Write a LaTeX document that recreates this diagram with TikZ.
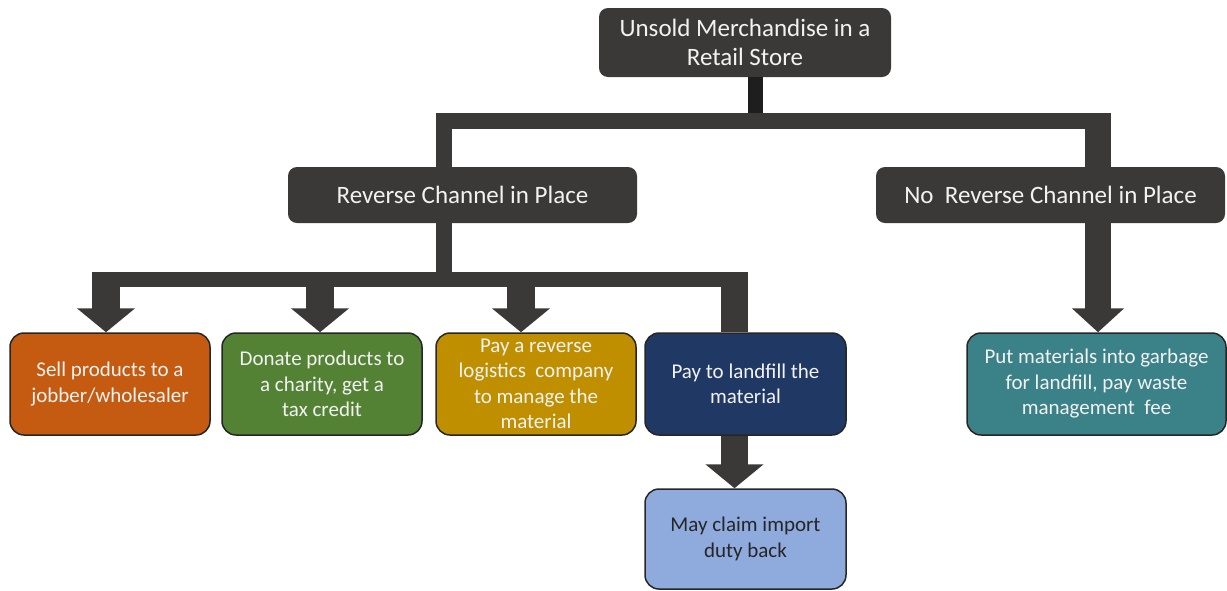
\documentclass[tikz,border=0pt]{standalone}
\usepackage{fontspec}
\setmainfont{Carlito}
\usetikzlibrary{arrows.meta}

\definecolor{boxgray}{HTML}{3A3937}
\definecolor{stemdark}{HTML}{1E1E1E}
\definecolor{sellorange}{HTML}{C55A11}
\definecolor{donategreen}{HTML}{548235}
\definecolor{payyellow}{HTML}{BF8F00}
\definecolor{landfillblue}{HTML}{203864}
\definecolor{claimblue}{HTML}{8FAADC}
\definecolor{garbageteal}{HTML}{3B8188}

\tikzset{
  darkbox/.style={fill=boxgray, text=white!95!black, rounded corners=9pt, inner sep=0pt, align=center, font=\fontsize{25}{29.5}\selectfont},
  choicebox/.style={draw=black!85, line width=1.5pt, rounded corners=14pt, inner sep=0pt, minimum width=200pt, minimum height=102pt, align=center, text=white!95!black, font=\fontsize{21}{25.5}\selectfont},
  connbar/.style={draw=boxgray, line width=15pt},
  connshaft/.style={draw=boxgray, line width=28pt},
  bigarrow/.style={connshaft, -{Triangle[width=57pt,length=24pt]}}
}

\begin{document}
\begin{tikzpicture}[x=1pt,y=-1pt]
\useasboundingbox (0,0) rectangle (1227,590);

% top levels
\node[darkbox, minimum width=292pt, minimum height=69pt] (store) at (745,42.5) {Unsold Merchandise in a\\Retail Store};
\node[darkbox, minimum width=349pt, minimum height=56pt] (rc) at (462.5,195) {Reverse Channel in Place};
\node[darkbox, minimum width=349pt, minimum height=56pt] (nrc) at (1050.5,195) {No\ \ Reverse Channel in Place};

% choices
\node[choicebox, fill=sellorange] (sell) at (110,384) {Sell products to a\\jobber/wholesaler};
\node[choicebox, fill=donategreen] (donate) at (322,384) {Donate products to\\a charity, get a\\tax credit};
\node[choicebox, fill=payyellow] (logistics) at (536,384) {Pay a reverse\\logistics\ \ company\\to manage the\\material};
\node[choicebox, fill=landfillblue, minimum width=201pt] (landfill) at (745.5,384) {Pay to landfill the\\material};
\node[choicebox, fill=claimblue, text=black!85, minimum width=201pt, minimum height=100pt] (claim) at (745.5,539) {May claim import\\duty back};
\node[choicebox, fill=garbageteal, minimum width=259pt] (garbage) at (1096.5,384) {Put materials into garbage\\for landfill, pay waste\\management\ \ fee};

\coordinate (stem) at (755.5,113);
\coordinate (upL) at (444,120.5);
\coordinate (upR) at (1098,120.5);
\coordinate (upRtop) at (1098,113);
\coordinate (a0) at (444,280);
\coordinate (a1) at (106,272);
\coordinate (a2) at (320,272);
\coordinate (a3) at (521,272);
\coordinate (a4) at (734.5,272);

% upper connectors
\draw[connbar, draw=stemdark] (store.south -| stem) -- (stem);
\draw[connbar, line width=16pt] (rc.north -| upL) -- (upL) -- (upR);
\draw[connshaft, line width=26pt] (upRtop) -- (nrc.north -| upRtop);

% lower connectors
\draw[connbar, line width=16pt] (rc.south -| a0) -- (a0);
\draw[connbar] ([xshift=-14pt,yshift=-7.5pt]a1) -- ([xshift=13.5pt,yshift=-7.5pt]a4);
\draw[bigarrow] (a1) -- (sell.north -| a1);
\draw[bigarrow] (a2) -- (donate.north -| a2);
\draw[bigarrow] (a3) -- (logistics.north -| a3);
\draw[connshaft, line width=27pt] (a4) -- (landfill.north -| a4);
\draw[bigarrow, line width=27pt] (landfill.south -| a4) -- (claim.north -| a4);
\draw[connshaft, line width=26pt, -{Triangle[width=51pt,length=24pt]}] (nrc.south -| upRtop) -- (garbage.north -| upRtop);

\end{tikzpicture}
\end{document}
